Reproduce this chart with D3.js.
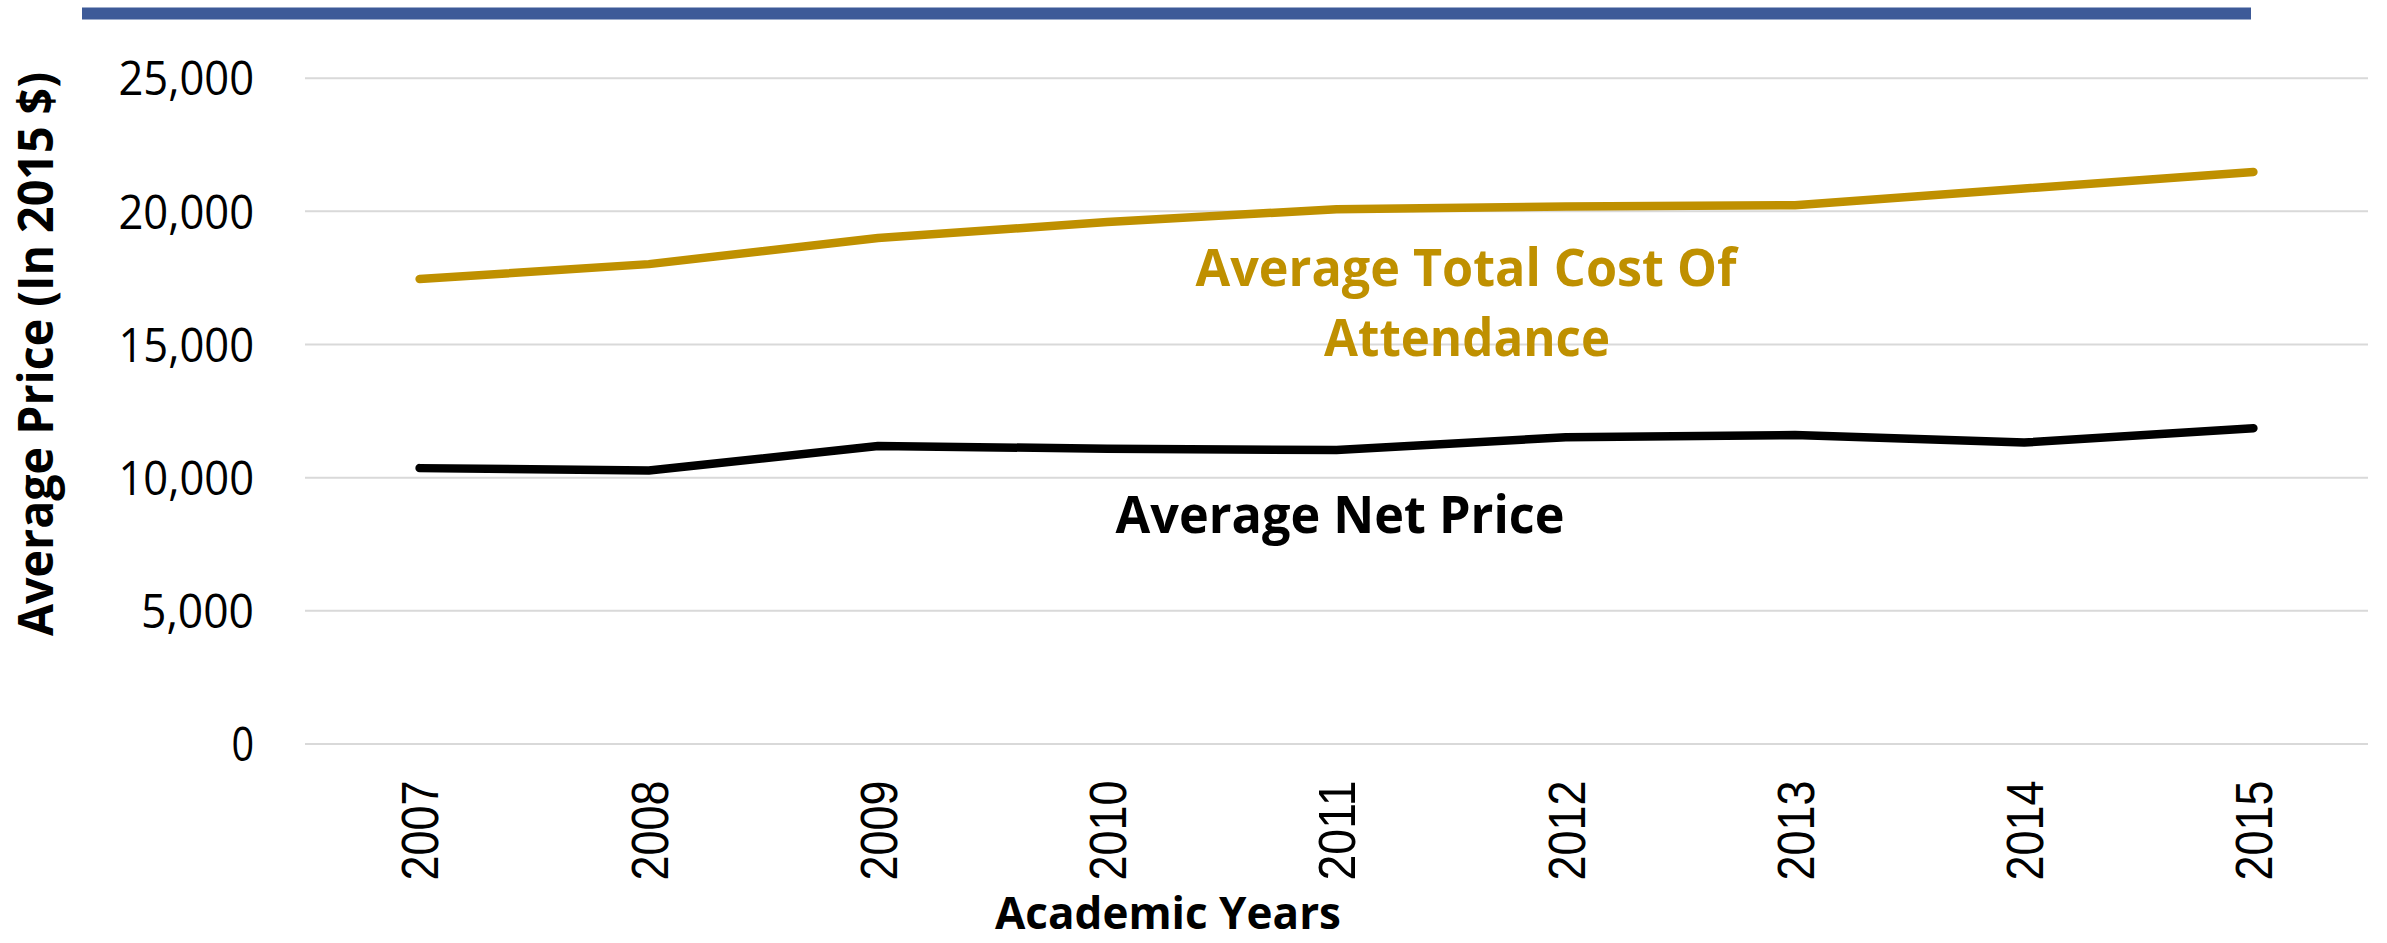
<!DOCTYPE html>
<html>
<head>
<meta charset="utf-8">
<script src="https://cdn.jsdelivr.net/npm/d3@7/dist/d3.min.js"></script>
<style>
  html, body { margin: 0; padding: 0; background: #fff; }
  svg { display: block; }
</style>
</head>
<body>
<svg id="chart" width="2387" height="943"></svg>
<script>
// Data
var years = ["2007", "2008", "2009", "2010", "2011", "2012", "2013", "2014", "2015"];
var totalCost = [17440, 18000, 18980, 19580, 20060, 20160, 20210, 20840, 21460];
var netPrice = [10340, 10250, 11170, 11070, 11020, 11500, 11580, 11300, 11840];
var yTicks = [0, 5000, 10000, 15000, 20000, 25000];

var W = 2387, H = 943;
var plot = { left: 305, right: 2368, top: 77.7, bottom: 743.5 };
var gold = "#bf9000";
var boldFont = "'Open Sans', 'Noto Sans', sans-serif";

var svg = d3.select("#chart");

var x = d3.scalePoint()
    .domain(years)
    .range([plot.left, plot.right])
    .padding(0.5);
var y = d3.scaleLinear()
    .domain([0, 25000])
    .range([plot.bottom, plot.top]);

// Top banner bar
svg.append("rect")
    .attr("x", 82)
    .attr("y", 7.5)
    .attr("width", 2251 - 82)
    .attr("height", 12)
    .attr("fill", "#3d5a98");

// Y axis with gridlines
var yAxis = svg.append("g")
    .attr("transform", "translate(" + plot.left + ",0)")
    .call(d3.axisLeft(y)
        .tickValues(yTicks)
        .tickSize(-(plot.right - plot.left))
        .tickPadding(51)
        .tickFormat(d3.format(",")));
yAxis.select(".domain").remove();
yAxis.selectAll(".tick line")
    .attr("stroke", "#d9d9d9")
    .attr("stroke-width", 2);
yAxis.selectAll(".tick text")
    .attr("fill", "#000")
    .attr("font-family", "'Open Sans', 'Noto Sans', sans-serif")
    .attr("font-size", 48)
    .attr("dy", "0.36em")
    .each(function (d) {
        // squeeze wide digits to the reference widths
        var n = d3.format(",")(d).length;
        d3.select(this).attr("textLength", n * 22.6).attr("lengthAdjust", "spacingAndGlyphs");
    });

// X axis labels, rotated
var xAxis = svg.append("g")
    .attr("transform", "translate(0," + plot.bottom + ")")
    .call(d3.axisBottom(x).tickSize(0));
xAxis.select(".domain").remove();
xAxis.selectAll(".tick text")
    .attr("fill", "#000")
    .attr("font-family", "'Liberation Sans', Arial, sans-serif")
    .attr("font-size", 51)
    .attr("text-anchor", "end")
    .attr("transform", "translate(0,37) rotate(-90)")
    .attr("x", 0)
    .attr("y", 0)
    .attr("dy", "0.36em")
    .attr("textLength", 100)
    .attr("lengthAdjust", "spacingAndGlyphs");

// Lines
var line = d3.line()
    .x(function (d, i) { return x(years[i]); })
    .y(function (d) { return y(d); });

svg.append("path")
    .datum(totalCost)
    .attr("d", line)
    .attr("fill", "none")
    .attr("stroke", gold)
    .attr("stroke-width", 8.5)
    .attr("stroke-linecap", "round")
    .attr("stroke-linejoin", "round");

svg.append("path")
    .datum(netPrice)
    .attr("d", line)
    .attr("fill", "none")
    .attr("stroke", "#000")
    .attr("stroke-width", 8.5)
    .attr("stroke-linecap", "round")
    .attr("stroke-linejoin", "round");

// Labels
function label(txt, cx, by, size, len, color) {
    return svg.append("text")
        .attr("x", cx)
        .attr("y", by)
        .attr("text-anchor", "middle")
        .attr("font-family", boldFont)
        .attr("font-weight", 700)
        .attr("font-size", size)
        .attr("fill", color)
        .attr("textLength", len)
        .attr("lengthAdjust", "spacingAndGlyphs")
        .text(txt);
}
label("Average Total Cost Of", 1466, 286, 52, 541, gold);
label("Attendance", 1467, 356, 52, 286, gold);
label("Average Net Price", 1340, 533, 52, 449, "#000");
label("Academic Years", 1168, 929, 45, 346, "#000");

svg.append("text")
    .attr("transform", "translate(53,354) rotate(-90)")
    .attr("text-anchor", "middle")
    .attr("font-family", boldFont)
    .attr("font-weight", 700)
    .attr("font-size", 49)
    .attr("fill", "#000")
    .attr("textLength", 564)
    .attr("lengthAdjust", "spacingAndGlyphs")
    .text("Average Price (In 2015 $)");
</script>
</body>
</html>
